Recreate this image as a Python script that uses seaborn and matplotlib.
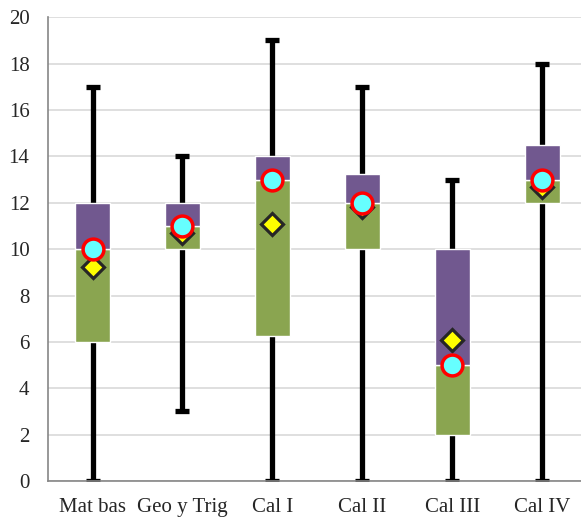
import seaborn as sns
import matplotlib.pyplot as plt
import pandas as pd

cursos = ['Mat bas', 'Geo y Trig', 'Cal I', 'Cal II', 'Cal III', 'Cal IV']
minimo = [0, 3, 0, 0, 0, 0]
q1 = [6, 10, 6.25, 10, 2, 12]
mediana = [10, 11, 13, 12, 5, 13]
q3 = [12, 12, 14, 13.25, 10, 14.5]
maximo = [17, 14, 19, 17, 13, 18]
media = [9.25, 10.7, 11.07, 11.8, 6.1, 12.7]

df = pd.DataFrame({'curso': cursos, 'min': minimo, 'q1': q1, 'med': mediana,
                   'q3': q3, 'max': maximo, 'media': media})
df['bajo'] = df.med - df.q1
df['alto'] = df.q3 - df.med

sns.set_style('white')
plt.rcParams['font.family'] = ['Liberation Serif', 'DejaVu Serif']
fontsize = 15

fig = plt.figure(figsize=(5.81, 5.19), dpi=100)
ax = fig.add_axes([0.0818, 0.0732, 0.929, 0.8935])

# whiskers (min - max) behind the boxes
ax.errorbar(x=range(len(df)), y=df.med, yerr=[df.med - df['min'], df['max'] - df.med],
            fmt='none', ecolor='black', elinewidth=3.8, capsize=5, capthick=3.8, zorder=2)

sns.barplot(data=df, x='curso', y='bajo', bottom=df.q1, color='#8AA550', width=0.39,
            saturation=1, ax=ax, zorder=3)
sns.barplot(data=df, x='curso', y='alto', bottom=df.med, color='#71588F', width=0.39,
            saturation=1, ax=ax, zorder=3)

ax.plot(range(len(df)), df.media, linestyle='none', marker='D', markersize=11,
        markerfacecolor='#FFFF00', markeredgecolor='#262626', markeredgewidth=2.3, zorder=5)
ax.plot(range(len(df)), df.med, linestyle='none', marker='o', markersize=15,
        markerfacecolor='#66FFFF', markeredgecolor='#FF0000', markeredgewidth=2.5, zorder=6)

ax.set_xlim(-0.5, len(df) - 0.5)
ax.set_ylim(0, 20)
ax.set_yticks(range(0, 21, 2))
ax.set_xticks([i - 0.5 for i in range(len(df) + 1)], minor=True)
ax.yaxis.grid(True, color='#D9D9D9', linewidth=1.2, zorder=0)
ax.set_axisbelow(True)
ax.tick_params(axis='y', which='major', length=5, width=1, color='#868686',
               labelsize=fontsize, pad=8)
ax.tick_params(axis='x', which='major', length=0, labelsize=fontsize, pad=12)
ax.tick_params(axis='x', which='minor', length=5, width=1, color='#868686')
for s in ['top', 'right']:
    ax.spines[s].set_visible(False)
for s in ['left', 'bottom']:
    ax.spines[s].set_color('#868686')
    ax.spines[s].set_linewidth(1.2)
ax.set_xlabel('')
ax.set_ylabel('')

plt.savefig('out.png', dpi=100)
plt.close()
